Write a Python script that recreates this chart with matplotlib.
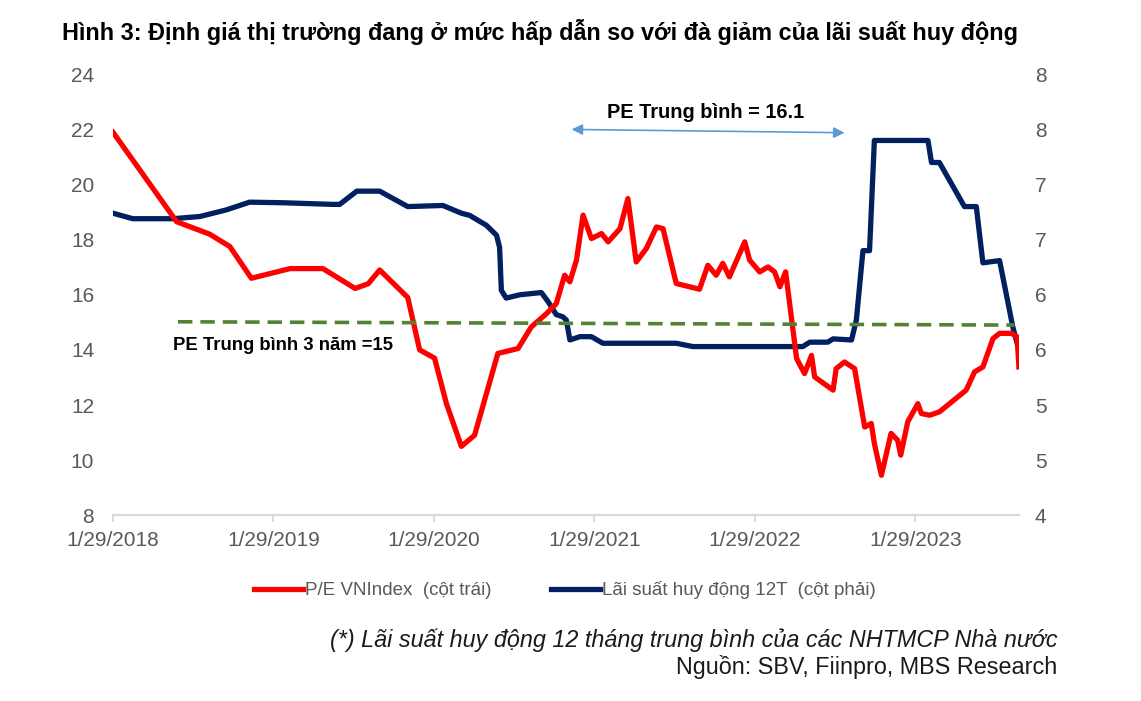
import pandas as pd
import matplotlib
matplotlib.use("Agg")
import matplotlib.pyplot as plt
from matplotlib.lines import Line2D

plt.rcParams['font.family'] = ['Liberation Sans', 'DejaVu Sans']

# P/E VNIndex (left axis)
pe_dates = ['2018-01-29', '2018-06-23', '2018-09-06', '2018-10-22', '2018-12-10',
            '2019-03-08', '2019-05-22', '2019-08-03', '2019-09-02', '2019-09-28',
            '2019-12-01', '2019-12-28', '2020-01-31', '2020-02-27', '2020-04-01',
            '2020-05-01', '2020-06-23', '2020-08-08', '2020-09-07', '2020-10-12',
            '2020-11-03', '2020-11-22', '2020-12-04', '2020-12-19', '2021-01-03',
            '2021-01-22', '2021-02-14', '2021-03-01', '2021-03-28', '2021-04-15',
            '2021-05-04', '2021-05-27', '2021-06-19', '2021-07-04', '2021-08-03',
            '2021-09-25', '2021-10-14', '2021-11-02', '2021-11-17', '2021-12-02',
            '2022-01-06', '2022-01-17', '2022-02-09', '2022-02-28', '2022-03-15',
            '2022-03-27', '2022-04-09', '2022-05-04', '2022-05-22', '2022-06-07',
            '2022-06-14', '2022-07-26', '2022-08-02', '2022-08-21', '2022-09-13',
            '2022-10-06', '2022-10-21', '2022-10-28', '2022-11-13', '2022-12-05',
            '2022-12-20', '2022-12-27', '2023-01-12', '2023-02-04', '2023-02-12',
            '2023-03-03', '2023-03-25', '2023-05-25', '2023-06-13', '2023-07-02',
            '2023-07-25', '2023-08-09', '2023-09-05', '2023-09-18', '2023-09-22']
pe_values = [21.9, 18.65, 18.2, 17.75, 16.6,
             16.95, 16.95, 16.23, 16.4, 16.9,
             15.9, 14.0, 13.7, 12.05, 10.5,
             10.9, 13.87, 14.05, 14.83, 15.32,
             15.68, 16.71, 16.47, 17.26, 18.89,
             18.04, 18.22, 17.92, 18.4, 19.49,
             17.19, 17.68, 18.46, 18.4, 16.41,
             16.2, 17.07, 16.71, 17.14, 16.65,
             17.92, 17.26, 16.83, 17.01, 16.83,
             16.29, 16.83, 13.69, 13.14, 13.8,
             13.02, 12.54, 13.32, 13.56, 13.32,
             11.2, 11.33, 10.6, 9.45, 10.97,
             10.72, 10.18, 11.39, 12.05, 11.69,
             11.63, 11.75, 12.54, 13.2, 13.38,
             14.41, 14.6, 14.6, 14.47, 13.38]

# Lai suat huy dong 12T (right axis)
rate_dates = ['2018-01-29', '2018-03-15', '2018-06-14', '2018-08-15', '2018-10-14',
              '2018-12-06', '2019-02-19', '2019-06-13', '2019-06-29', '2019-08-07',
              '2019-09-28', '2019-12-01', '2020-02-19', '2020-04-01', '2020-04-20',
              '2020-05-28', '2020-06-20', '2020-06-27', '2020-07-01', '2020-07-12',
              '2020-08-12', '2020-09-30', '2020-10-15', '2020-11-03', '2020-11-18',
              '2020-11-26', '2020-12-04', '2020-12-27', '2021-01-22', '2021-02-17',
              '2021-08-03', '2021-09-10', '2022-05-18', '2022-06-03', '2022-07-14',
              '2022-07-26', '2022-09-06', '2022-09-17', '2022-10-02', '2022-10-17',
              '2022-10-28', '2023-02-27', '2023-03-07', '2023-03-25', '2023-05-21',
              '2023-06-17', '2023-07-02', '2023-08-09', '2023-09-08', '2023-09-22']
rate_values = [6.74, 6.69, 6.69, 6.71, 6.77,
               6.84, 6.835, 6.82, 6.82, 6.94,
               6.94, 6.8, 6.81, 6.74, 6.72,
               6.63, 6.54, 6.43, 6.04, 5.97,
               6.0, 6.02, 5.94, 5.82, 5.8,
               5.77, 5.59, 5.62, 5.62, 5.56,
               5.56, 5.53, 5.53, 5.57, 5.57,
               5.6, 5.59, 5.77, 6.4, 6.4,
               7.4, 7.4, 7.2, 7.2, 6.8,
               6.8, 6.29, 6.31, 5.71, 5.5]

left_ticks = [8, 10, 12, 14, 16, 18, 20, 22, 24]
right_ticks = [4, 4.5, 5, 5.5, 6, 6.5, 7, 7.5, 8]
right_tick_labels = ['4', '5', '5', '6', '6', '7', '7', '8', '8']
x_ticks = ['2018-01-29', '2019-01-29', '2020-01-29', '2021-01-29', '2022-01-29', '2023-01-29']

pe_avg_3y = 15
avg_line_dates = ['2018-06-26', '2023-09-12']
avg_line_values = [15.02, 14.9]
arrow_dates = ['2020-12-08', '2022-08-21']
arrow_values = [22.0, 21.88]

pe_dates = pd.to_datetime(pe_dates)
rate_dates = pd.to_datetime(rate_dates)
x_ticks = pd.to_datetime(x_ticks)

red = '#FF0000'
navy = '#002060'
gray = '#595959'

fig = plt.figure(figsize=(11.41, 7.01), dpi=100)
ax = fig.add_axes([0.099, 0.265, 0.794, 0.629])
ax2 = ax.twinx()

ax.plot(pe_dates, pe_values, color=red, lw=3.8, solid_joinstyle='round', zorder=3)
ax2.plot(rate_dates, rate_values, color=navy, lw=3.8, solid_joinstyle='round', zorder=3)
ax.plot(pd.to_datetime(avg_line_dates), avg_line_values, color='#548235', lw=2.6,
        dashes=(4, 2.2), zorder=4)

ax.set_zorder(ax2.get_zorder() + 1)
ax.patch.set_visible(False)

ax.set_ylim(8, 24)
ax2.set_ylim(4, 8)
ax.set_xlim(pe_dates[0], pe_dates[-1])
ax.set_yticks(left_ticks)
ax2.set_yticks(right_ticks)
ax2.set_yticklabels(right_tick_labels)
ax.set_xticks(x_ticks)
ax.set_xticklabels([f'{d.month}/{d.day}/{d.year}' for d in x_ticks])

for a in (ax, ax2):
    for s in a.spines.values():
        s.set_visible(False)
ax.spines['bottom'].set_visible(True)
ax.spines['bottom'].set_color('#D9D9D9')
ax.spines['bottom'].set_linewidth(1.6)

ax.tick_params(axis='x', colors='#D9D9D9', length=5, width=1.4, labelcolor=gray,
               labelsize=15, pad=6)
ax.tick_params(axis='y', length=0, labelcolor=gray, labelsize=15, pad=13.5)
ax2.tick_params(axis='y', length=0, labelcolor=gray, labelsize=15, pad=11.5)

ax.annotate('', xy=(pd.Timestamp(arrow_dates[0]), arrow_values[0]),
            xytext=(pd.Timestamp(arrow_dates[1]), arrow_values[1]),
            arrowprops=dict(arrowstyle='<|-|>', color='#5B9BD5', lw=1.2,
                            mutation_scale=16, shrinkA=0, shrinkB=0))
ax.text(pd.Timestamp('2021-10-09'), 22.6, 'PE Trung bình = 16.1', ha='center', va='center',
        fontsize=14.4, fontweight='bold', color='black')
ax.text(pd.Timestamp('2018-06-15'), 14.17, f'PE Trung bình 3 năm ={pe_avg_3y}', ha='left',
        va='center', fontsize=13.3, fontweight='bold', color='black')

fig.text(0.054, 0.954, 'Hình 3: Định giá thị trường đang ở mức hấp dẫn so với đà giảm của lãi suất huy động',
         ha='left', va='center', fontsize=16.8, fontweight='bold', color='black')

handles = [Line2D([], [], color=red, lw=3.8), Line2D([], [], color=navy, lw=3.8)]
fig.legend(handles, ['P/E VNIndex  (cột trái)', 'Lãi suất huy động 12T  (cột phải)'],
           loc='center', bbox_to_anchor=(0.495, 0.158), ncol=2, frameon=False,
           fontsize=13.5, labelcolor=gray, handlelength=2.6, handletextpad=0.1,
           columnspacing=3.2)

fig.text(0.927, 0.087, '(*) Lãi suất huy động 12 tháng trung bình của các NHTMCP Nhà nước',
         ha='right', va='center', fontsize=16.8, style='italic', color='#1A1A1A')
fig.text(0.927, 0.048, 'Nguồn: SBV, Fiinpro, MBS Research',
         ha='right', va='center', fontsize=16.8, color='#1A1A1A')

fig.savefig('out.png', dpi=100)
